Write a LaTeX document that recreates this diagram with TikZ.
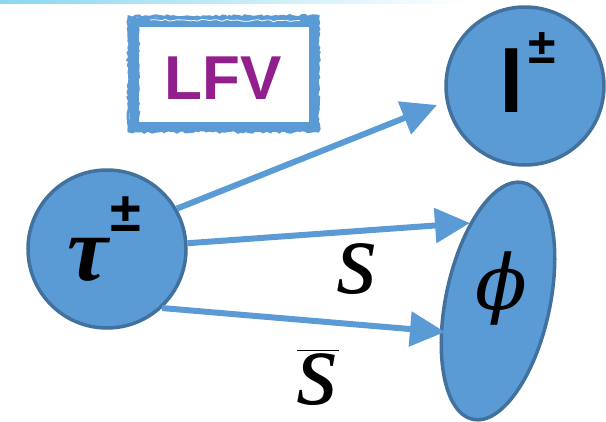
\RequirePackage{fix-cm}
\documentclass[tikz,border=0pt]{standalone}
\usepackage{amsmath}
\usepackage{fontspec}
\usetikzlibrary{arrows.meta,shapes.geometric,decorations.pathmorphing}
\newfontfamily\arialb{Liberation Sans}[BoldFont=* Bold]
\newfontfamily\tms{Liberation Serif}
\newfontfamily\dvs{DejaVu Serif}
\definecolor{bfill}{HTML}{5B9BD5}
\definecolor{bedge}{HTML}{41719C}
\definecolor{lfvpurple}{HTML}{92208C}
\tikzset{
  ball/.style={circle, fill=bfill, draw=bedge, line width=3.5pt, minimum size=158pt, inner sep=0pt},
  egg/.style={ellipse, fill=bfill, draw=bedge, line width=3.5pt, minimum width=104pt, minimum height=242pt, inner sep=0pt},
  arr/.style={draw=bfill, line width=6pt, -{Triangle[length=35pt,width=34pt]}},
  brush/.style={draw=bfill, line width=#1, decorate, decoration={random steps, segment length=3pt, amplitude=1.2pt}},
  lbl/.style={inner sep=0pt, text=black}
}
\begin{document}
\begin{tikzpicture}[x=1pt, y=-1pt]
\useasboundingbox (0,0) rectangle (606,421);
% faint top line
\shade[left color=cyan!35!bfill!60, right color=white] (0,0) rectangle (470,3);
% LFV brushed frame
\draw[draw=bfill, line width=9pt] (134,22) rectangle (313,126);
\draw[brush=3pt] (129,17) rectangle (318,131);
\draw[brush=2.5pt] (131,19) -- (318,16);
\draw[brush=2pt] (130,130) -- (316,128);
\draw[brush=2pt] (138,26) -- (138,124);
\draw[draw=white, line width=0.8pt, decorate, decoration={random steps, segment length=4pt, amplitude=1pt}] (150,20) -- (300,21);
\node[lbl, font=\arialb\bfseries\fontsize{62}{62}\selectfont, text=lfvpurple] (lfv) at (223,78.5) {LFV};
% nodes
\node[ball] (tau) at (107,249) {};
\node[ball] (lep) at (525,86) {};
\node[egg, rotate=-12] (phi) at (498,301) {};
% labels
\node[lbl, font=\tms\bfseries\itshape\fontsize{92}{92}\selectfont] (taut) at (88,260) {τ};
\node[lbl, font=\arialb\bfseries\fontsize{56}{56}\selectfont] (taupm) at (126,214) {±};
\node[lbl, font=\arialb\bfseries\fontsize{88}{88}\selectfont] (lt) at (512,81) {l};
\node[lbl, font=\arialb\bfseries\fontsize{50}{50}\selectfont] (lpm) at (542,48) {±};
\node[lbl, font=\dvs\itshape\fontsize{76}{76}\selectfont] (phit) at (501,289) {ϕ};
\node[lbl, font=\fontsize{106}{106}\selectfont] (st) at (357,269) {\tms\itshape s};
\node[lbl, font=\fontsize{108}{108}\selectfont, anchor=south] (sbt) at (318,406) {$\overline{\hbox{\tms\itshape s}}$};
% arrows
\coordinate (t1) at (437,105);
\coordinate (t2) at (470,223);
\coordinate (t3) at (445,332);
\draw[arr] (tau.30) -- (t1);
\draw[arr] (tau) -- (t2);
\draw[arr] (tau.-47) -- (t3);
\end{tikzpicture}
\end{document}
